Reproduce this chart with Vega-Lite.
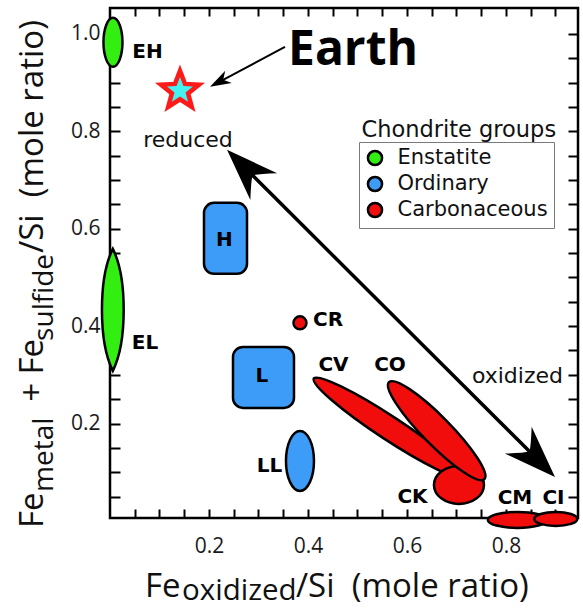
{
  "$schema": "https://vega.github.io/schema/vega-lite/v6.json",
  "width": 468,
  "height": 510,
  "autosize": {"type": "none"},
  "padding": {"left": 110, "top": 8, "right": 5, "bottom": 92},
  "background": "white",
  "config": {
    "view": {"stroke": "black", "strokeWidth": 2.5},
    "font": "Open Sans",
    "text": {"font": "Open Sans", "color": "black"},
    "legend": {"orient": "none", "legendX": 249, "legendY": 134, "title": null, "symbolType": "circle", "symbolSize": 200, "symbolStrokeColor": "black", "symbolStrokeWidth": 2.5, "symbolOpacity": 1, "labelFont": "DejaVu Sans", "labelFontSize": 21, "labelColor": "#111111", "strokeColor": "#7a7a7a", "padding": 5.5, "rowPadding": 1, "labelOffset": 12, "symbolOffset": 0}
  },
  "datasets": {
    "chondrites": [
      {"name": "EH", "group": "Enstatite", "x": 0.006, "y": 0.9825, "lx": 0.0758, "ly": 0.963},
      {"name": "EL", "group": "Enstatite", "x": 0.0057, "y": 0.4333, "lx": 0.0707, "ly": 0.3655},
      {"name": "H", "group": "Ordinary", "x_lo": 0.1899, "x_hi": 0.2768, "y_lo": 0.5072, "y_hi": 0.653, "lx": 0.2313, "ly": 0.576},
      {"name": "L", "group": "Ordinary", "x_lo": 0.2485, "x_hi": 0.3717, "y_lo": 0.232, "y_hi": 0.3573, "lx": 0.307, "ly": 0.2967},
      {"name": "LL", "group": "Ordinary", "x": 0.3838, "y": 0.1232, "lx": 0.3222, "ly": 0.1129},
      {"name": "CR", "group": "Carbonaceous", "x": 0.3838, "y": 0.4066, "lx": 0.4404, "ly": 0.4127},
      {"name": "CV", "group": "Carbonaceous", "x": 0.5636, "y": 0.191, "lx": 0.4515, "ly": 0.3203},
      {"name": "CK", "group": "Carbonaceous", "x": 0.705, "y": 0.0739, "lx": 0.6111, "ly": 0.0493},
      {"name": "CO", "group": "Carbonaceous", "x": 0.66, "y": 0.1852, "lx": 0.5657, "ly": 0.3203},
      {"name": "CM", "group": "Carbonaceous", "x": 0.823, "y": 0.0021, "lx": 0.8182, "ly": 0.0472},
      {"name": "CI", "group": "Carbonaceous", "x": 0.9006, "y": 0.0041, "lx": 0.896, "ly": 0.0472}
    ]
  },
  "layer": [
    {
      "data": {"name": "chondrites"},
      "transform": [{"filter": "!isValid(datum.x_lo)"}],
      "mark": {"type": "point", "filled": true, "size": 4, "opacity": 1, "stroke": "black", "strokeWidth": 2.5},
      "encoding": {
        "x": {"field": "x", "type": "quantitative", "scale": {"domain": [0, 0.9455], "nice": false, "zero": false},
          "axis": {"orient": "bottom", "values": [0.05,0.1,0.15,0.2,0.25,0.3,0.35,0.4,0.45,0.5,0.55,0.6,0.65,0.7,0.75,0.8,0.85,0.9], "labelExpr": "abs(datum.value*5 - round(datum.value*5)) < 0.001 ? format(datum.value, '.1f') : ''", "tickSize": -9, "tickWidth": 2, "tickColor": "black", "domain": false, "grid": false, "title": null, "labelFont": "Open Sans", "labelFontSize": 21, "labelColor": "#1a1a1a", "labelPadding": 26, "labelFlush": false, "labelOverlap": false}},
        "y": {"field": "y", "type": "quantitative", "scale": {"domain": [0.006, 1.053], "nice": false, "zero": false},
          "axis": {"orient": "left", "values": [0.05,0.1,0.15,0.2,0.25,0.3,0.35,0.4,0.45,0.5,0.55,0.6,0.65,0.7,0.75,0.8,0.85,0.9,0.95,1.0], "labelExpr": "abs(datum.value*5 - round(datum.value*5)) < 0.001 ? format(datum.value, '.1f') : ''", "tickSize": -10, "tickWidth": 2, "tickColor": "black", "domain": false, "grid": false, "title": null, "labelFont": "Open Sans", "labelFontSize": 21, "labelColor": "#1a1a1a", "labelPadding": 20, "labelFlush": false, "labelOverlap": false}},
        "color": {"field": "group", "type": "nominal", "scale": {"domain": ["Enstatite", "Ordinary", "Carbonaceous"], "range": ["#33ee11", "#3d9cf7", "#f20d0d"]}},
        "shape": {"field": "name", "type": "nominal", "legend": null,
          "scale": {"domain": ["EH", "EL", "LL", "CR", "CV", "CK", "CO", "CM", "CI"],
            "range": [
              "M0,-24.5A9.5,24.5,0,0,1,0,24.5A9.5,24.5,0,0,1,0,-24.5Z",
              "M0,-61C14.5,-32,14.5,32,0,61C-14.5,32,-14.5,-32,0,-61Z",
              "M0,-30A14,30,0,0,1,0,30A14,30,0,0,1,0,-30Z",
              "M-6.5,0A6.5,6.5,0,0,1,6.5,0A6.5,6.5,0,0,1,-6.5,0Z",
              "M-75.2,-49.4A90,12,33.3,0,1,75.2,49.4A90,12,33.3,0,1,-75.2,-49.4Z",
              "M-25,0A25,19,0,0,1,25,0A25,19,0,0,1,-25,0Z",
              "M-47.7,-48.5A68,14,45.5,0,1,47.7,48.5A68,14,45.5,0,1,-47.7,-48.5Z",
              "M-29.5,0A29.5,8,0,0,1,29.5,0A29.5,8,0,0,1,-29.5,0Z",
              "M-21.5,0A21.5,7,0,0,1,21.5,0A21.5,7,0,0,1,-21.5,0Z"
            ]}}
      }
    },
    {
      "data": {"name": "chondrites"},
      "transform": [{"filter": "isValid(datum.x_lo)"}],
      "mark": {"type": "rect", "cornerRadius": 10, "stroke": "black", "strokeWidth": 2.5},
      "encoding": {
        "x": {"field": "x_lo", "type": "quantitative", "scale": {"domain": [0, 0.9455], "nice": false, "zero": false},
          "axis": {"orient": "top", "values": [0.05,0.1,0.15,0.2,0.25,0.3,0.35,0.4,0.45,0.5,0.55,0.6,0.65,0.7,0.75,0.8,0.85,0.9], "labels": false, "tickSize": -8, "tickWidth": 2, "tickColor": "black", "domain": false, "grid": false, "title": null}},
        "x2": {"field": "x_hi"},
        "y": {"field": "y_lo", "type": "quantitative", "scale": {"domain": [0.006, 1.053], "nice": false, "zero": false},
          "axis": {"orient": "right", "values": [0.05,0.1,0.15,0.2,0.25,0.3,0.35,0.4,0.45,0.5,0.55,0.6,0.65,0.7,0.75,0.8,0.85,0.9,0.95,1.0], "labels": false, "tickSize": -10, "tickWidth": 2, "tickColor": "black", "domain": false, "grid": false, "title": null}},
        "y2": {"field": "y_hi"},
        "color": {"field": "group", "type": "nominal", "scale": {"domain": ["Enstatite", "Ordinary", "Carbonaceous"], "range": ["#33ee11", "#3d9cf7", "#f20d0d"]}}
      }
    },
    {
      "data": {"name": "chondrites"},
      "mark": {"type": "text", "font": "DejaVu Sans", "fontWeight": "bold", "fontSize": 20, "align": "center", "baseline": "middle", "color": "black"},
      "encoding": {
        "x": {"field": "lx", "type": "quantitative", "scale": {"domain": [0, 0.9455], "nice": false, "zero": false}, "axis": null},
        "y": {"field": "ly", "type": "quantitative", "scale": {"domain": [0.006, 1.053], "nice": false, "zero": false}, "axis": null},
        "text": {"field": "name"}
      }
    },
    {
      "data": {"values": [{}]},
      "mark": {"type": "point", "shape": "M0,-20L5,-6.9L19.0,-6.2L8.1,2.6L11.8,16.2L0,8.5L-11.8,16.2L-8.1,2.6L-19.0,-6.2L-5,-6.9Z", "size": 4, "filled": true, "opacity": 1, "fill": "#44f2f2", "stroke": "#ff1a1a", "strokeWidth": 4.5, "strokeJoin": "miter"},
      "encoding": {
        "x": {"datum": 0.1414, "type": "quantitative", "scale": {"domain": [0, 0.9455], "nice": false, "zero": false}, "axis": null},
        "y": {"datum": 0.883, "type": "quantitative", "scale": {"domain": [0.006, 1.053], "nice": false, "zero": false}, "axis": null}
      }
    },
    {
      "data": {"values": [{}]},
      "mark": {"type": "text", "text": "Earth", "font": "Open Sans", "fontWeight": "bold", "fontSize": 48, "align": "left", "baseline": "alphabetic", "color": "black"},
      "encoding": {
        "x": {"datum": 0.3596, "type": "quantitative", "scale": {"domain": [0, 0.9455], "nice": false, "zero": false}, "axis": null},
        "y": {"datum": 0.9363, "type": "quantitative", "scale": {"domain": [0.006, 1.053], "nice": false, "zero": false}, "axis": null}
      }
    },
    {
      "data": {"values": [{}]},
      "mark": {"type": "rule", "color": "black", "strokeWidth": 2},
      "encoding": {
        "x": {"datum": 0.3535, "type": "quantitative", "scale": {"domain": [0, 0.9455], "nice": false, "zero": false}, "axis": null},
        "y": {"datum": 0.9733, "type": "quantitative", "scale": {"domain": [0.006, 1.053], "nice": false, "zero": false}, "axis": null},
        "x2": {"datum": 0.2162},
        "y2": {"datum": 0.8988}
      }
    },
    {
      "data": {"values": [{}]},
      "mark": {"type": "point", "shape": "M0,0L-21,-7L-15,0L-21,7Z", "size": 4, "filled": true, "opacity": 1, "fill": "black", "strokeWidth": 0, "angle": 151.9},
      "encoding": {
        "x": {"datum": 0.202, "type": "quantitative", "scale": {"domain": [0, 0.9455], "nice": false, "zero": false}, "axis": null},
        "y": {"datum": 0.8912, "type": "quantitative", "scale": {"domain": [0.006, 1.053], "nice": false, "zero": false}, "axis": null}
      }
    },
    {
      "data": {"values": [{}]},
      "mark": {"type": "rule", "color": "black", "strokeWidth": 3.5},
      "encoding": {
        "x": {"datum": 0.2578, "type": "quantitative", "scale": {"domain": [0, 0.9455], "nice": false, "zero": false}, "axis": null},
        "y": {"datum": 0.74, "type": "quantitative", "scale": {"domain": [0.006, 1.053], "nice": false, "zero": false}, "axis": null},
        "x2": {"datum": 0.8776},
        "y2": {"datum": 0.1121}
      }
    },
    {
      "data": {"values": [{}]},
      "mark": {"type": "point", "shape": "M0,0L-52,-19Q-39,-5,-36,0Q-39,5,-52,19Z", "size": 4, "filled": true, "opacity": 1, "fill": "black", "strokeWidth": 0, "angle": 225},
      "encoding": {
        "x": {"datum": 0.2364, "type": "quantitative", "scale": {"domain": [0, 0.9455], "nice": false, "zero": false}, "axis": null},
        "y": {"datum": 0.7618, "type": "quantitative", "scale": {"domain": [0.006, 1.053], "nice": false, "zero": false}, "axis": null}
      }
    },
    {
      "data": {"values": [{}]},
      "mark": {"type": "point", "shape": "M0,0L-52,-19Q-39,-5,-36,0Q-39,5,-52,19Z", "size": 4, "filled": true, "opacity": 1, "fill": "black", "strokeWidth": 0, "angle": 45},
      "encoding": {
        "x": {"datum": 0.899, "type": "quantitative", "scale": {"domain": [0, 0.9455], "nice": false, "zero": false}, "axis": null},
        "y": {"datum": 0.0903, "type": "quantitative", "scale": {"domain": [0.006, 1.053], "nice": false, "zero": false}, "axis": null}
      }
    },
    {
      "data": {"values": [{}]},
      "mark": {"type": "text", "text": "reduced", "font": "DejaVu Sans", "fontSize": 22, "align": "center", "baseline": "alphabetic", "color": "#111111"},
      "encoding": {
        "x": {"datum": 0.1576, "type": "quantitative", "scale": {"domain": [0, 0.9455], "nice": false, "zero": false}, "axis": null},
        "y": {"datum": 0.7686, "type": "quantitative", "scale": {"domain": [0.006, 1.053], "nice": false, "zero": false}, "axis": null}
      }
    },
    {
      "data": {"values": [{}]},
      "mark": {"type": "text", "text": "oxidized", "font": "DejaVu Sans", "fontSize": 22, "align": "center", "baseline": "alphabetic", "color": "#111111"},
      "encoding": {
        "x": {"datum": 0.8232, "type": "quantitative", "scale": {"domain": [0, 0.9455], "nice": false, "zero": false}, "axis": null},
        "y": {"datum": 0.2827, "type": "quantitative", "scale": {"domain": [0.006, 1.053], "nice": false, "zero": false}, "axis": null}
      }
    },
    {
      "data": {"values": [{}]},
      "mark": {"type": "text", "text": "Chondrite groups", "font": "DejaVu Sans", "fontSize": 22.5, "align": "left", "baseline": "alphabetic", "color": "#111111"},
      "encoding": {
        "x": {"datum": 0.508, "type": "quantitative", "scale": {"domain": [0, 0.9455], "nice": false, "zero": false}, "axis": null},
        "y": {"datum": 0.7885, "type": "quantitative", "scale": {"domain": [0.006, 1.053], "nice": false, "zero": false}, "axis": null}
      }
    },
    {
      "data": {"values": [{}]},
      "mark": {"type": "text", "text": "Fe", "font": "Open Sans", "fontSize": 33, "align": "left", "baseline": "alphabetic", "color": "#111111"},
      "encoding": {
        "x": {"datum": 0.0707, "type": "quantitative", "scale": {"domain": [0, 0.9455], "nice": false, "zero": false}, "axis": null},
        "y": {"datum": -0.156, "type": "quantitative", "scale": {"domain": [0.006, 1.053], "nice": false, "zero": false}, "axis": null}
      }
    },
    {
      "data": {"values": [{}]},
      "mark": {"type": "text", "text": "oxidized", "font": "Open Sans", "fontSize": 29.5, "align": "left", "baseline": "alphabetic", "color": "#111111"},
      "encoding": {
        "x": {"datum": 0.1455, "type": "quantitative", "scale": {"domain": [0, 0.9455], "nice": false, "zero": false}, "axis": null},
        "y": {"datum": -0.1622, "type": "quantitative", "scale": {"domain": [0.006, 1.053], "nice": false, "zero": false}, "axis": null}
      }
    },
    {
      "data": {"values": [{}]},
      "mark": {"type": "text", "text": "/Si\u00a0 (mole ratio)", "font": "Open Sans", "fontSize": 33, "align": "left", "baseline": "alphabetic", "color": "#111111"},
      "encoding": {
        "x": {"datum": 0.3758, "type": "quantitative", "scale": {"domain": [0, 0.9455], "nice": false, "zero": false}, "axis": null},
        "y": {"datum": -0.156, "type": "quantitative", "scale": {"domain": [0.006, 1.053], "nice": false, "zero": false}, "axis": null}
      }
    },
    {
      "data": {"values": [{}]},
      "mark": {"type": "text", "text": "Fe", "font": "Open Sans", "fontSize": 33, "angle": 270, "align": "left", "baseline": "alphabetic", "color": "#111111"},
      "encoding": {
        "x": {"datum": -0.1354, "type": "quantitative", "scale": {"domain": [0, 0.9455], "nice": false, "zero": false}, "axis": null},
        "y": {"datum": -0.0144, "type": "quantitative", "scale": {"domain": [0.006, 1.053], "nice": false, "zero": false}, "axis": null}
      }
    },
    {
      "data": {"values": [{}]},
      "mark": {"type": "text", "text": "metal", "font": "Open Sans", "fontSize": 28, "angle": 270, "align": "left", "baseline": "alphabetic", "color": "#111111"},
      "encoding": {
        "x": {"datum": -0.1152, "type": "quantitative", "scale": {"domain": [0, 0.9455], "nice": false, "zero": false}, "axis": null},
        "y": {"datum": 0.0595, "type": "quantitative", "scale": {"domain": [0.006, 1.053], "nice": false, "zero": false}, "axis": null}
      }
    },
    {
      "data": {"values": [{}]},
      "mark": {"type": "text", "text": "+ Fe", "font": "Open Sans", "fontSize": 33, "angle": 270, "align": "left", "baseline": "alphabetic", "color": "#111111"},
      "encoding": {
        "x": {"datum": -0.1354, "type": "quantitative", "scale": {"domain": [0, 0.9455], "nice": false, "zero": false}, "axis": null},
        "y": {"datum": 0.2444, "type": "quantitative", "scale": {"domain": [0.006, 1.053], "nice": false, "zero": false}, "axis": null}
      }
    },
    {
      "data": {"values": [{}]},
      "mark": {"type": "text", "text": "sulfide", "font": "Open Sans", "fontSize": 28, "angle": 270, "align": "left", "baseline": "alphabetic", "color": "#111111"},
      "encoding": {
        "x": {"datum": -0.1152, "type": "quantitative", "scale": {"domain": [0, 0.9455], "nice": false, "zero": false}, "axis": null},
        "y": {"datum": 0.3696, "type": "quantitative", "scale": {"domain": [0.006, 1.053], "nice": false, "zero": false}, "axis": null}
      }
    },
    {
      "data": {"values": [{}]},
      "mark": {"type": "text", "text": "/Si\u00a0 (mole ratio)", "font": "Open Sans", "fontSize": 33, "angle": 270, "align": "left", "baseline": "alphabetic", "color": "#111111"},
      "encoding": {
        "x": {"datum": -0.1354, "type": "quantitative", "scale": {"domain": [0, 0.9455], "nice": false, "zero": false}, "axis": null},
        "y": {"datum": 0.5503, "type": "quantitative", "scale": {"domain": [0.006, 1.053], "nice": false, "zero": false}, "axis": null}
      }
    }
  ],
  "resolve": {"axis": {"x": "independent", "y": "independent"}}
}
